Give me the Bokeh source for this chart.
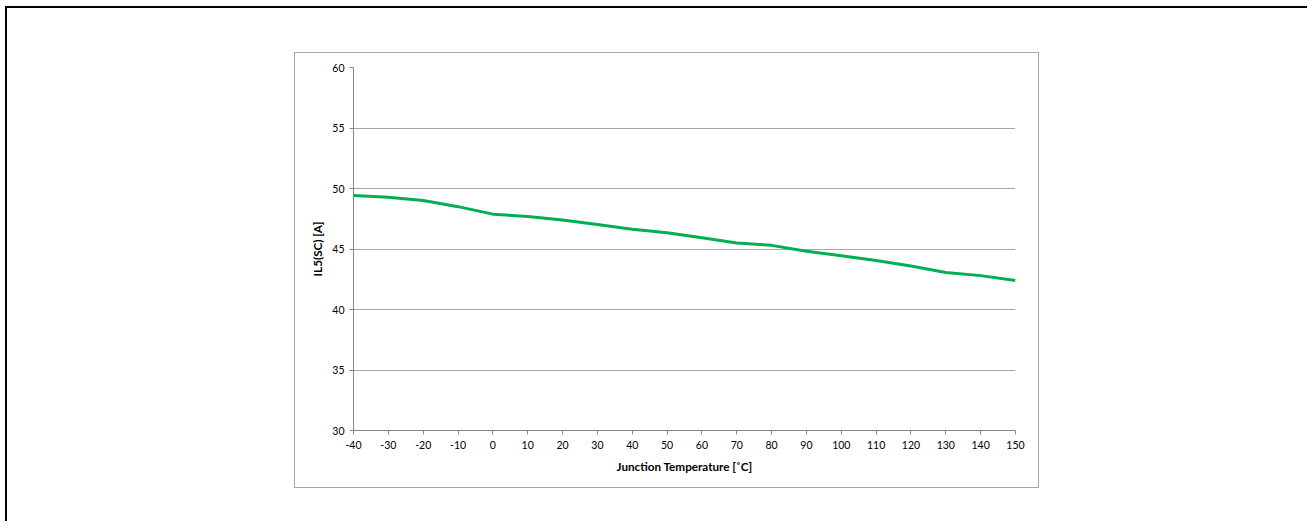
from bokeh.plotting import figure
from bokeh.layouts import column
from bokeh.models import FixedTicker
from bokeh.embed import file_html
from bokeh.resources import INLINE

# Data
temperature_c = [-40, -30, -20, -10, 0, 10, 20, 30, 40, 50, 60, 70, 80, 90, 100, 110, 120, 130, 140, 150]
il5_sc_a = [49.42, 49.28, 49.00, 48.50, 47.88, 47.68, 47.40, 47.02, 46.63, 46.35,
            45.93, 45.50, 45.30, 44.82, 44.45, 44.05, 43.60, 43.05, 42.80, 42.40]
x_ticks = [-40, -30, -20, -10, 0, 10, 20, 30, 40, 50, 60, 70, 80, 90, 100, 110, 120, 130, 140, 150]
y_ticks = [30, 35, 40, 45, 50, 55, 60]

FONT = "Lato"
AX = "#868686"

p = figure(width=745, height=436, x_range=(-40, 150), y_range=(30, 60),
           output_backend="svg", toolbar_location=None,
           min_border_left=58, min_border_right=25, min_border_top=14, min_border_bottom=59)
p.line(temperature_c, il5_sc_a, line_color="#00B050", line_width=3)

p.xaxis.ticker = FixedTicker(ticks=x_ticks)
p.yaxis.ticker = FixedTicker(ticks=y_ticks)
p.xaxis.major_label_overrides = {t: str(t) for t in x_ticks}
p.yaxis.major_label_overrides = {t: str(t) for t in y_ticks}
p.xgrid.visible = False
p.ygrid.grid_line_color = "#a6a6a6"
p.ygrid.grid_line_width = 1
p.outline_line_color = None

for ax in (p.xaxis[0], p.yaxis[0]):
    ax.axis_line_color = AX
    ax.major_tick_line_color = AX
    ax.major_tick_in = 0
    ax.major_tick_out = 4
    ax.minor_tick_line_color = None
    ax.major_label_text_font = FONT
    ax.major_label_text_font_size = "10.5px"
    ax.major_label_text_color = "#000000"
    ax.axis_label_text_font = FONT
    ax.axis_label_text_font_size = "11.7px"
    ax.axis_label_text_font_style = "bold"
    ax.axis_label_text_color = "#000000"

p.xaxis.axis_label = "Junction Temperature [˚C]"
p.yaxis.axis_label = "IL5(SC) [A]"
p.xaxis.major_label_standoff = 6
p.yaxis.major_label_standoff = 5
p.xaxis.axis_label_standoff = 7
p.yaxis.axis_label_standoff = 5

p.styles = {"border": "1px solid #a6a6a6"}
p.margin = (44, 0, 0, 287)

outer = column(p, width=1302, height=515, margin=(6, 0, 0, 5),
               styles={"border-left": "2px solid black", "border-top": "2px solid black",
                       "box-sizing": "border-box"})

open("out.html", "w").write(file_html(outer, INLINE))
